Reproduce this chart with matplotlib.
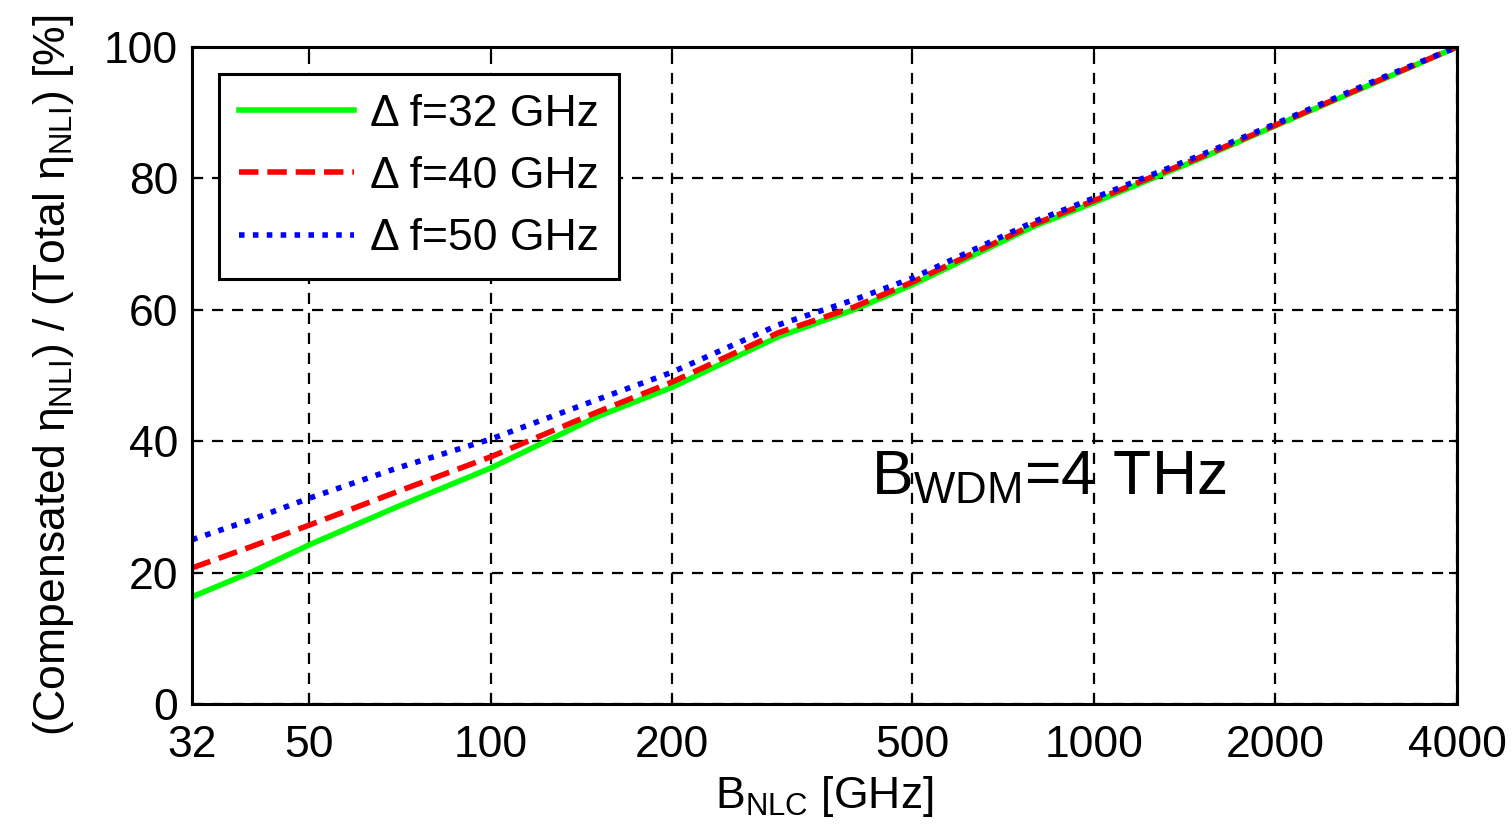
import numpy as np
import matplotlib
matplotlib.use('Agg')
import matplotlib.pyplot as plt

plt.rcParams['font.family'] = ['Liberation Sans', 'DejaVu Sans']
plt.rcParams['mathtext.fontset'] = 'custom'
plt.rcParams['mathtext.rm'] = 'Liberation Sans'
plt.rcParams['mathtext.it'] = 'Liberation Sans'

# values
b_nlc = [32, 40, 50, 70, 100, 150, 200, 300, 400, 500, 800, 1000, 1500, 2000, 3000, 4000]
df32 = [16.3, 20.0, 24.2, 30.0, 35.9, 43.7, 48.2, 55.9, 60.0, 63.8, 72.8, 76.3, 83.0, 88.0, 95.0, 100]
df40 = [20.7, 23.9, 27.2, 32.3, 37.6, 44.4, 49.0, 56.5, 60.4, 64.2, 73.1, 76.6, 83.2, 88.1, 95.1, 100]
df50 = [25.0, 28.0, 31.3, 35.9, 40.3, 46.3, 50.5, 57.7, 61.5, 64.8, 73.5, 77.0, 83.5, 88.3, 95.3, 100]

xticks = [32, 50, 100, 200, 500, 1000, 2000, 4000]
yticks = [0, 20, 40, 60, 80, 100]

fig = plt.figure(figsize=(15.12, 8.36), dpi=100)
ax = fig.add_axes([0.127, 0.158, 0.8366, 0.7858])

ax.plot(b_nlc, df32, color='#00ff00', lw=4, ls='-', label='\u0394 f=32 GHz')
ax.plot(b_nlc, df40, color='#ff0000', lw=4, ls=(0, (3.5, 1.6)), label='\u0394 f=40 GHz')
ax.plot(b_nlc, df50, color='#0000ff', lw=4, ls=(0, (1, 1.5)), label='\u0394 f=50 GHz')

ax.set_xscale('log')
ax.set_xlim(32, 4000)
ax.set_ylim(0, 100)
ax.set_xticks(xticks)
ax.set_xticklabels([str(t) for t in xticks])
ax.xaxis.set_minor_locator(matplotlib.ticker.NullLocator())
ax.set_yticks(yticks)

ax.grid(True, color='black', ls=(0, (5, 4)), lw=1.6)
ax.tick_params(direction='in', length=6, width=1.5, labelsize=32, top=True, right=True, pad=10)
ax.tick_params(axis='x', pad=15)
for s in ax.spines.values():
    s.set_linewidth(2.2)

ax.set_xlabel(r'B$_{\mathrm{NLC}}$ [GHz]', fontsize=32, labelpad=6)
ax.set_ylabel(r'(Compensated $\eta_{\mathrm{NLI}}$) / (Total $\eta_{\mathrm{NLI}}$) [%]', fontsize=32, labelpad=20)

ax.text(0.537, 0.32, r'B$_{\mathrm{WDM}}$=4 THz', transform=ax.transAxes, fontsize=45)

leg = ax.legend(loc='upper left', fontsize=32, frameon=True, fancybox=False,
                edgecolor='black', framealpha=1, handlelength=2.6, borderaxespad=0.6,
                handletextpad=0.35, labelspacing=0.48, borderpad=0.45)
leg.get_frame().set_linewidth(2.2)

fig.savefig('out.png', dpi=100)
